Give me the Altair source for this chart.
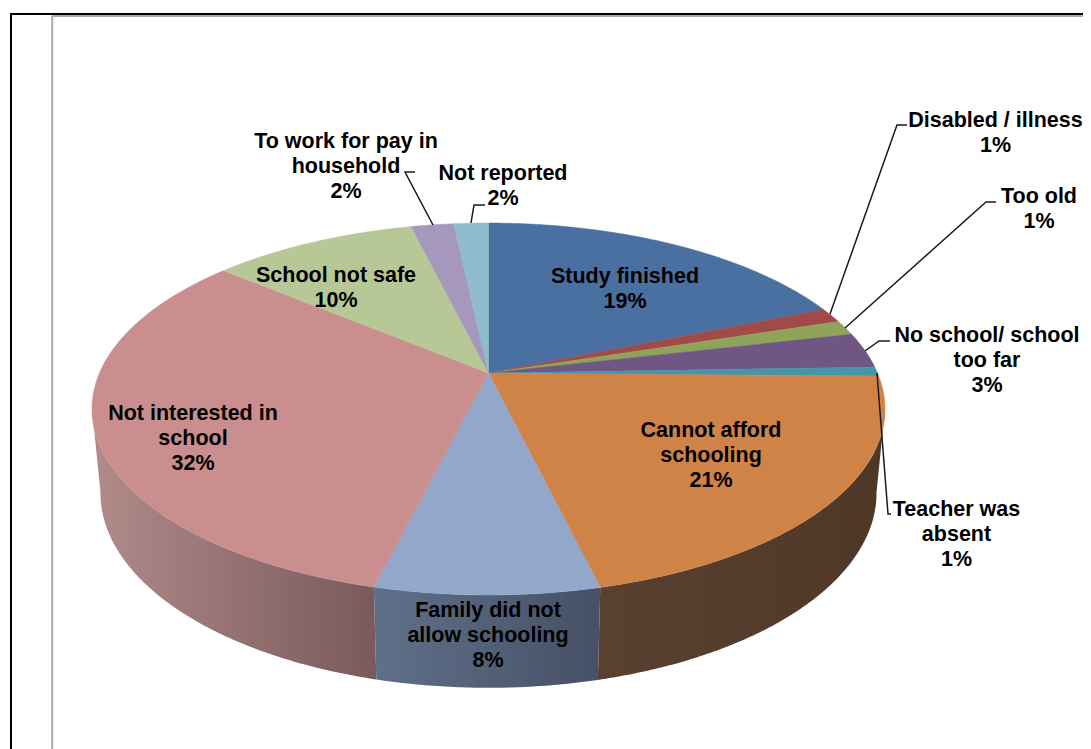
import math
import altair as alt
import pandas as pd

# Slice values (percent, clockwise from 12 o'clock)
names = ["Study finished", "Disabled / illness", "Too old", "No school/ school too far",
         "Teacher was absent", "Cannot afford schooling", "Family did not allow schooling",
         "Not interested in school", "School not safe", "To work for pay in household",
         "Not reported"]
values = [18.8, 1.3, 1.3, 3.1, 0.8, 21.0, 7.6, 32.3, 10.1, 2.1, 1.7]
colors = ["#4a70a2", "#a04a4a", "#8fa45a", "#6f5685", "#4695aa", "#d08347",
          "#92a7c9", "#c98e8d", "#b7c896", "#a598bc", "#8fbbcb"]

# Data labels
label_text = ["Study finished\n19%", "Disabled / illness\n1%", "Too old\n1%",
              "No school/ school\ntoo far\n3%", "Teacher was\nabsent\n1%",
              "Cannot afford\nschooling\n21%", "Family did not\nallow schooling\n8%",
              "Not interested in\nschool\n32%", "School not safe\n10%",
              "To work for pay in\nhousehold\n2%", "Not reported\n2%"]
label_x = [625, 995.5, 1039, 987, 956.5, 711, 488, 193, 336, 346, 503]
label_y = [276.5, 120.5, 196.5, 335.5, 509.5, 430.5, 610.5, 413.5, 275.5, 141.5, 173.5]

# Leader lines
leaders = [
    [(907, 125), (897, 125), (830, 314)],
    [(996, 202), (986, 202), (845, 328)],
    [(890, 341), (879, 341), (865, 351)],
    [(877, 373), (888, 514), (891, 514)],
    [(485, 205), (474, 205), (471, 223)],
    [(415, 172), (405, 172), (433, 225)],
]

# Walls of the three slices that face the viewer: colours at left and right of each
wall_left = ["#5a4030", "#5f7089", "#b28a8a"]
wall_right = ["#4f3726", "#465066", "#795a5b"]

# Perspective of the pie: unit circle to picture
K = -0.1935
CX = 488.5
TOP = dict(y0=373.0, a=389.0, b=179.0)
BOT = dict(y0=455.2, a=380.7, b=187.6)


def rim(deg, p):
    t = math.radians(deg)
    u, v = math.sin(t), -math.cos(t)
    w = 1 + K * v
    return CX + p["a"] * u / w, p["y0"] + p["b"] * v / w


def arc(d0, d1, p):
    n = max(2, int(abs(d1 - d0) * 2) + 1)
    return [rim(d0 + (d1 - d0) * i / (n - 1), p) for i in range(n)]


def frame(points):
    return pd.DataFrame({"x": [q[0] for q in points], "y": [q[1] for q in points],
                         "i": list(range(len(points)))})


xs = alt.Scale(domain=[8, 1083], nice=False, zero=False)
ys = alt.Scale(domain=[749, 8], nice=False, zero=False)
X = alt.X("x:Q", scale=xs, axis=None)
Y = alt.Y("y:Q", scale=ys, axis=None)
O = alt.Order("i:Q")

total = sum(values)
edges = [0.0]
for val in values:
    edges.append(edges[-1] + val / total * 360)

layers = []


def grad(c0, c1):
    return alt.Gradient(gradient="linear", x1=0, x2=1, y1=0, y2=0,
                        stops=[alt.GradientStop(color=c0, offset=0),
                               alt.GradientStop(color=c1, offset=1)])


# Outer walls, from the right silhouette to the left one
wall_edges = [101.0, edges[6], edges[7], 259.0]
for j in range(3):
    a, b = wall_edges[j], wall_edges[j + 1]
    pts = arc(a, b, TOP) + arc(b, a, BOT)
    layers.append(alt.Chart(frame(pts)).mark_line(
        fill=grad(wall_left[j], wall_right[j]), strokeWidth=0, interpolate="linear-closed"
    ).encode(x=X, y=Y, order=O))

# Top surface
for i, c in enumerate(colors):
    pts = [(CX, TOP["y0"])] + arc(edges[i], edges[i + 1], TOP)
    layers.append(alt.Chart(frame(pts)).mark_line(
        fill=c, stroke=c, strokeWidth=0.5, interpolate="linear-closed"
    ).encode(x=X, y=Y, order=O))

# Leader lines
for pts in leaders:
    layers.append(alt.Chart(frame(pts)).mark_line(
        color="#1a1a1a", strokeWidth=1.5
    ).encode(x=X, y=Y, order=O))

# Page frame
frame_v = pd.DataFrame({"x": [52.2, 11], "y": [15.5, 13], "y2": [749, 749]})
frame_h = pd.DataFrame({"x": [52, 10], "x2": [1083, 1083], "y": [16, 14]})
colors_frame = ["#a9a9b0", "#000000"]
for j, c in enumerate(colors_frame):
    layers.append(alt.Chart(frame_v.iloc[[j]]).mark_rule(color=c, strokeWidth=2).encode(
        x=X, y=Y, y2="y2:Q"))
    layers.append(alt.Chart(frame_h.iloc[[j]]).mark_rule(color=c, strokeWidth=2).encode(
        x=X, x2="x2:Q", y=Y))

# Labels
labels = pd.DataFrame({"t": label_text, "x": label_x, "y": label_y})
layers.append(alt.Chart(labels).mark_text(
    font="Liberation Sans", fontSize=21.5, fontWeight="bold", color="#000000",
    lineBreak="\n", lineHeight=25.4, align="center", baseline="middle"
).encode(x=X, y=Y, text="t:N"))

chart = alt.layer(*layers).properties(
    width=1075, height=741, padding=0, autosize=alt.AutoSizeParams(type="none"),
    background="#ffffff"
).configure_view(stroke=None)

chart.save("out.html", embed_options={"renderer": "svg", "actions": False})
